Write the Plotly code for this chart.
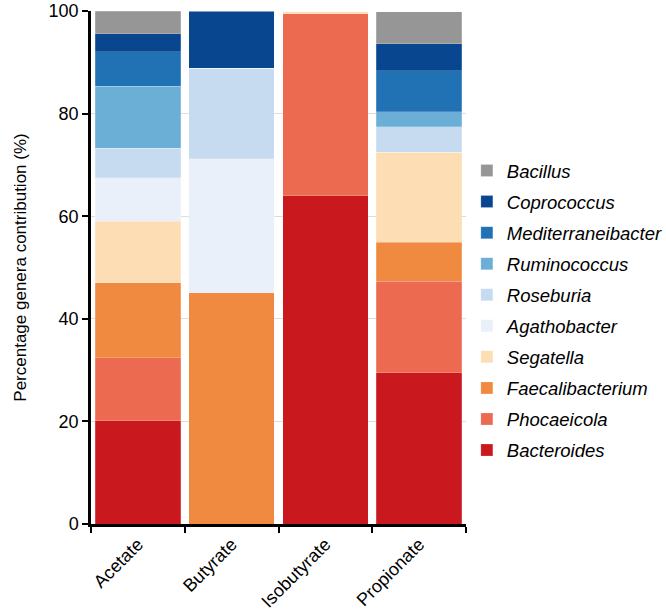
import plotly.graph_objects as go

categories = ["Acetate", "Butyrate", "Isobutyrate", "Propionate"]

genera = ["Bacteroides", "Phocaeicola", "Faecalibacterium", "Segatella", "Agathobacter",
          "Roseburia", "Ruminococcus", "Mediterraneibacter", "Coprococcus", "Bacillus"]

Bacteroides = [20.1, 0.0, 64.0, 29.5]
Phocaeicola = [12.3, 0.0, 35.5, 17.8]
Faecalibacterium = [14.6, 45.1, 0.0, 7.6]
Segatella = [12.0, 0.0, 0.5, 17.6]
Agathobacter = [8.5, 26.1, 0.0, 0.0]
Roseburia = [5.7, 17.6, 0.0, 4.9]
Ruminococcus = [12.1, 0.0, 0.0, 3.0]
Mediterraneibacter = [6.8, 0.0, 0.0, 8.0]
Coprococcus = [3.5, 11.2, 0.0, 5.2]
Bacillus = [4.4, 0.0, 0.0, 6.3]

values = [Bacteroides, Phocaeicola, Faecalibacterium, Segatella, Agathobacter,
          Roseburia, Ruminococcus, Mediterraneibacter, Coprococcus, Bacillus]

colors = ["#C9181E", "#EB6A50", "#F08A40", "#FDDDB3", "#EAF0F9",
          "#C6DBEF", "#6BAED6", "#2171B5", "#08468F", "#969696"]

FONT = "Liberation Sans, Arial, sans-serif"

fig = go.Figure()
n = len(genera)
for i, (name, vals, col) in enumerate(zip(genera, values, colors)):
    fig.add_trace(go.Bar(
        x=categories, y=vals, name=f"<i>{name}</i>",
        marker=dict(color=col, line=dict(width=0.5, color="rgba(255,255,255,0.4)")),
        legendgroup=name, legendrank=n - i,
    ))

fig.update_layout(
    width=666, height=614,
    barmode="stack", bargap=0.09,
    plot_bgcolor="white", paper_bgcolor="white",
    margin=dict(l=91, r=200, t=11, b=90, autoexpand=False),
    font=dict(family=FONT, color="black", size=16),
    legend=dict(
        xref="container", yref="container",
        x=0.701, y=0.7524, xanchor="left", yanchor="top",
        traceorder="grouped", tracegroupgap=4.0,
        font=dict(size=18.5, family=FONT),
        itemwidth=30,
    ),
    xaxis=dict(
        type="category", tickson="boundaries",
        showline=True, linecolor="black", linewidth=2.5,
        ticks="outside", ticklen=6, tickwidth=2, tickcolor="black",
        tickangle=-45, tickfont=dict(size=18),
        showgrid=False, automargin=False,
    ),
    yaxis=dict(
        range=[0, 100], tickvals=[0, 20, 40, 60, 80, 100],
        showline=True, linecolor="black", linewidth=2.5,
        ticks="outside", ticklen=6, tickwidth=2, tickcolor="black",
        tickfont=dict(size=18), ticklabeloverflow="allow",
        showgrid=True, gridcolor="#DDDDDD", gridwidth=1,
        zeroline=False, automargin=False,
        title=dict(text="Percentage genera contribution (%)", font=dict(size=17), standoff=18),
    ),
)

fig.write_html("out.html")
